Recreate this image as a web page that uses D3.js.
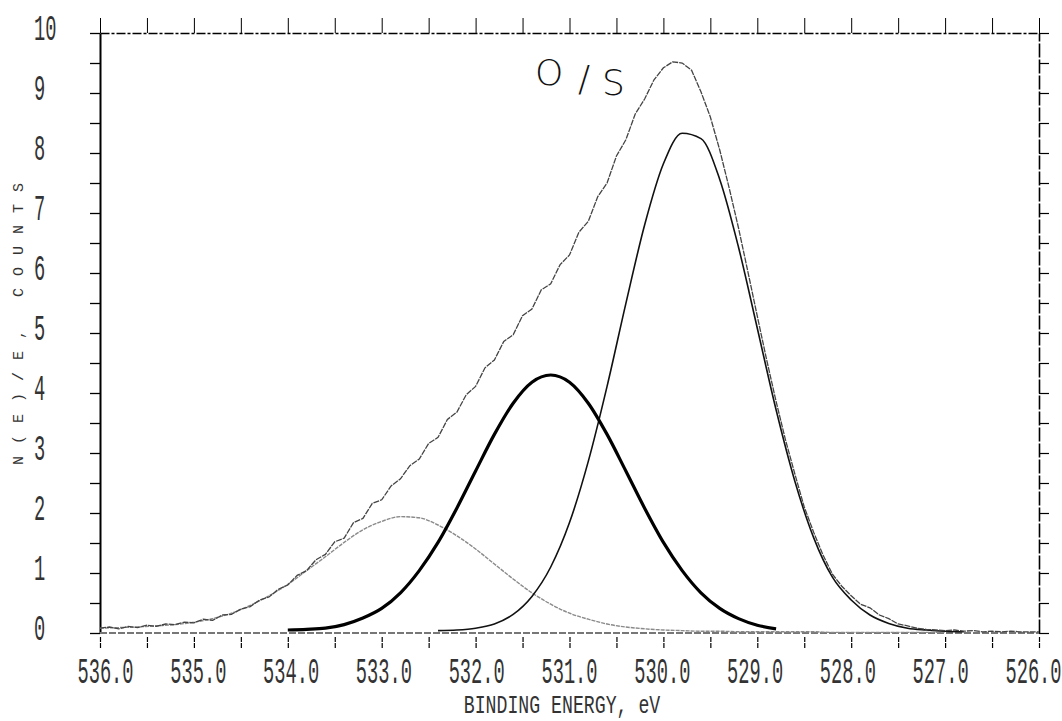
<!DOCTYPE html>
<html>
<head>
<meta charset="utf-8">
<script src="https://cdn.jsdelivr.net/npm/d3@7"></script>
<style>
  body { margin: 0; background: #fff; }
  .mono { font-family: "Liberation Mono", "DejaVu Sans Mono", monospace; fill: #333; }
</style>
</head>
<body>
<div id="chart"></div>
<script>
// measured envelope, 0.1 eV steps from 536.0 eV down to 526.0 eV
var envStart = 536.0, envStep = 0.1;
var envelope = [
  0.08, 0.10, 0.07, 0.11, 0.09, 0.13, 0.11, 0.15, 0.14, 0.18,
  0.17, 0.23, 0.21, 0.30, 0.31, 0.40, 0.44, 0.55, 0.60, 0.73,
  0.80, 0.96, 1.04, 1.22, 1.31, 1.52, 1.58, 1.84, 1.91, 2.16,
  2.22, 2.45, 2.57, 2.79, 2.90, 3.16, 3.26, 3.56, 3.68, 3.97,
  4.11, 4.42, 4.55, 4.86, 4.97, 5.29, 5.40, 5.72, 5.82, 6.14,
  6.30, 6.68, 6.86, 7.27, 7.50, 7.95, 8.22, 8.65, 8.90, 9.22,
  9.42, 9.52, 9.50, 9.38, 9.02, 8.60, 8.05, 7.42, 6.75, 6.02,
  5.28, 4.55, 3.86, 3.22, 2.65, 2.10, 1.68, 1.30, 0.98, 0.78,
  0.62, 0.48, 0.42, 0.30, 0.24, 0.15, 0.12, 0.08, 0.06, 0.05,
  0.04, 0.05, 0.03, 0.04, 0.02, 0.03, 0.02, 0.03, 0.02, 0.02,
  0.02
];

// fitted components, 0.2 eV steps
var peak1Start = 536.0;   // ~532.8 eV, grey
var peak1 = [
  0.08, 0.09, 0.10, 0.12, 0.14, 0.18, 0.24, 0.33, 0.46, 0.62,
  0.81, 1.04, 1.27, 1.51, 1.72, 1.86, 1.94, 1.92, 1.80, 1.62,
  1.40, 1.15, 0.90, 0.67, 0.48, 0.33, 0.23, 0.15, 0.10, 0.07,
  0.05, 0.04, 0.03, 0.03, 0.02, 0.02, 0.02, 0.02, 0.02, 0.01,
  0.01, 0.01, 0.01, 0.01, 0.01, 0.01
];
var peak2Start = 534.0;   // ~531.2 eV, heavy
var peak2 = [
  0.05, 0.06, 0.08, 0.14, 0.25, 0.41, 0.67, 1.04, 1.51, 2.08,
  2.70, 3.31, 3.83, 4.18, 4.30, 4.18, 3.83, 3.31, 2.70, 2.08,
  1.51, 1.04, 0.67, 0.41, 0.24, 0.13, 0.07
];
var peak3Start = 532.4;   // ~529.7 eV
var peak3 = [
  0.04, 0.05, 0.08, 0.15, 0.31, 0.61, 1.10, 1.84, 2.86, 4.11,
  5.49, 6.80, 7.82, 8.33, 8.24, 7.56, 6.43, 5.08, 3.72, 2.53,
  1.59, 0.93, 0.55, 0.30, 0.16, 0.08, 0.05, 0.03, 0.02
];
var compStep = 0.2;

var xTicks = [536, 535, 534, 533, 532, 531, 530, 529, 528, 527, 526];
var xMinor = [536, 535.5, 535, 534.5, 534, 533.5, 533, 532.5, 532, 531.5, 531,
              530.5, 530, 529.5, 529, 528.5, 528, 527.5, 527, 526.5, 526];
var yTicks = [0, 1, 2, 3, 4, 5, 6, 7, 8, 9, 10];
var yMinor = [0, 0.5, 1, 1.5, 2, 2.5, 3, 3.5, 4, 4.5, 5, 5.5, 6, 6.5, 7, 7.5, 8, 8.5, 9, 9.5, 10];

var width = 1062, height = 721;
// plot box (note: "top" is reserved on window, so prefix these)
var plotL = 100, plotR = 1039, plotT = 33, plotB = 633;
var sx = 0.52; // narrow plotter lettering

var svg = d3.select("#chart").append("svg")
  .attr("width", width)
  .attr("height", height);

var x = d3.scaleLinear().domain([536, 526]).range([plotL, plotR]);
var y = d3.scaleLinear().domain([0, 10]).range([plotB, plotT]);

function toPoints(start, step, vals) {
  return vals.map(function(v, i) { return [start - i * step, v]; });
}

// frame: left / right axes with outward ticks, top with upward ticks
svg.append("g")
  .attr("transform", "translate(" + plotL + ",0)")
  .call(d3.axisLeft(y).tickValues(yMinor).tickSize(10).tickSizeOuter(0).tickFormat(""))
  .call(function(g) {
    g.select(".domain").attr("stroke-width", 2);
    g.selectAll(".tick line").attr("stroke-width", 1.3);
  });

svg.append("g")
  .attr("transform", "translate(" + plotR + ",0)")
  .call(d3.axisRight(y).tickValues(yMinor).tickSize(10).tickSizeOuter(0).tickFormat(""))
  .call(function(g) {
    g.select(".domain").attr("stroke-width", 1.6).attr("stroke-dasharray", "14,2");
    g.selectAll(".tick line").attr("stroke-width", 1.2);
  });

svg.append("g")
  .attr("transform", "translate(0," + plotT + ")")
  .call(d3.axisTop(x).tickValues(xMinor).tickSize(15).tickSizeOuter(0).tickFormat(""))
  .call(function(g) {
    g.select(".domain").attr("stroke-width", 1.3).attr("stroke-dasharray", "9,2,3,2");
    g.selectAll(".tick line").attr("stroke-width", 1);
  });

// bottom ticks sit below the zero line
svg.append("g")
  .attr("transform", "translate(0," + (plotB + 4) + ")")
  .call(d3.axisBottom(x).tickValues(xMinor).tickSize(12).tickFormat(""))
  .call(function(g) {
    g.select(".domain").remove();
    g.selectAll(".tick line").attr("stroke-width", 1.2).attr("stroke-dasharray", "5,1");
  });

// x tick labels (plotter spaced them a little tighter than the ticks)
svg.append("g")
  .attr("transform", "translate(0," + (plotB + 4) + ")")
  .call(d3.axisBottom(x).tickValues(xTicks).tickSize(0).tickFormat(d3.format(".1f")))
  .call(function(g) {
    g.select(".domain").remove();
    g.selectAll("text")
      .attr("class", "mono")
      .attr("font-size", 36)
      .attr("dy", 0)
      .attr("y", 46)
      .attr("x", function(d) { return (5 - 1.1 * (536 - d)) / sx; })
      .attr("transform", "scale(" + sx + ",1)");
  });

// y tick labels, left aligned
svg.append("g")
  .attr("transform", "translate(" + plotL + ",0)")
  .call(d3.axisLeft(y).tickValues(yTicks).tickSize(0).tickFormat(d3.format("d")))
  .call(function(g) {
    g.select(".domain").remove();
    g.selectAll("text")
      .attr("class", "mono")
      .attr("font-size", 36)
      .attr("text-anchor", "start")
      .attr("dy", 0)
      .attr("y", 6)
      .attr("x", -66 / sx)
      .attr("transform", "scale(" + sx + ",1)");
  });

// zero line
svg.append("line")
  .attr("x1", x(536)).attr("x2", x(526))
  .attr("y1", y(0)).attr("y2", y(0))
  .attr("stroke", "#777")
  .attr("stroke-width", 2)
  .attr("stroke-dasharray", "7,2");

var line = d3.line()
  .x(function(d) { return x(d[0]); })
  .y(function(d) { return y(d[1]); });

var smooth = d3.line()
  .x(function(d) { return x(d[0]); })
  .y(function(d) { return y(d[1]); })
  .curve(d3.curveMonotoneX);

svg.append("path")
  .datum(toPoints(peak1Start, compStep, peak1))
  .attr("d", smooth)
  .attr("fill", "none")
  .attr("stroke", "#8a8a8a")
  .attr("stroke-width", 1.4)
  .attr("stroke-dasharray", "4,1");

svg.append("path")
  .datum(toPoints(peak3Start, compStep, peak3))
  .attr("d", smooth)
  .attr("fill", "none")
  .attr("stroke", "#111")
  .attr("stroke-width", 1.6);

svg.append("path")
  .datum(toPoints(peak2Start, compStep, peak2))
  .attr("d", smooth)
  .attr("fill", "none")
  .attr("stroke", "#000")
  .attr("stroke-width", 3.2);

svg.append("path")
  .datum(toPoints(envStart, envStep, envelope))
  .attr("d", line)
  .attr("fill", "none")
  .attr("stroke", "#444")
  .attr("stroke-width", 1.3)
  .attr("stroke-dasharray", "6,1");

// region label
svg.append("text").attr("x", 535).attr("y", 85)
  .attr("font-family", "DejaVu Sans").attr("font-weight", 200)
  .attr("font-size", 36).attr("fill", "#111").text("O");
svg.append("text").attr("x", 578).attr("y", 91)
  .attr("font-family", "DejaVu Sans").attr("font-weight", 200)
  .attr("font-size", 36).attr("fill", "#111").text("/");
svg.append("text").attr("x", 602).attr("y", 95)
  .attr("font-family", "DejaVu Sans").attr("font-weight", 200)
  .attr("font-size", 36).attr("fill", "#111").text("S");

// axis titles
svg.append("text")
  .attr("class", "mono")
  .attr("font-size", 26)
  .attr("text-anchor", "middle")
  .attr("transform", "translate(562,713) scale(0.7,1)")
  .text("BINDING ENERGY, eV");

svg.append("text")
  .attr("class", "mono")
  .attr("font-size", 15)
  .attr("fill", "#555")
  .attr("letter-spacing", 12)
  .attr("text-anchor", "middle")
  .attr("transform", "translate(23,318) rotate(-90)")
  .text("N(E)/E, COUNTS");
</script>
</body>
</html>
